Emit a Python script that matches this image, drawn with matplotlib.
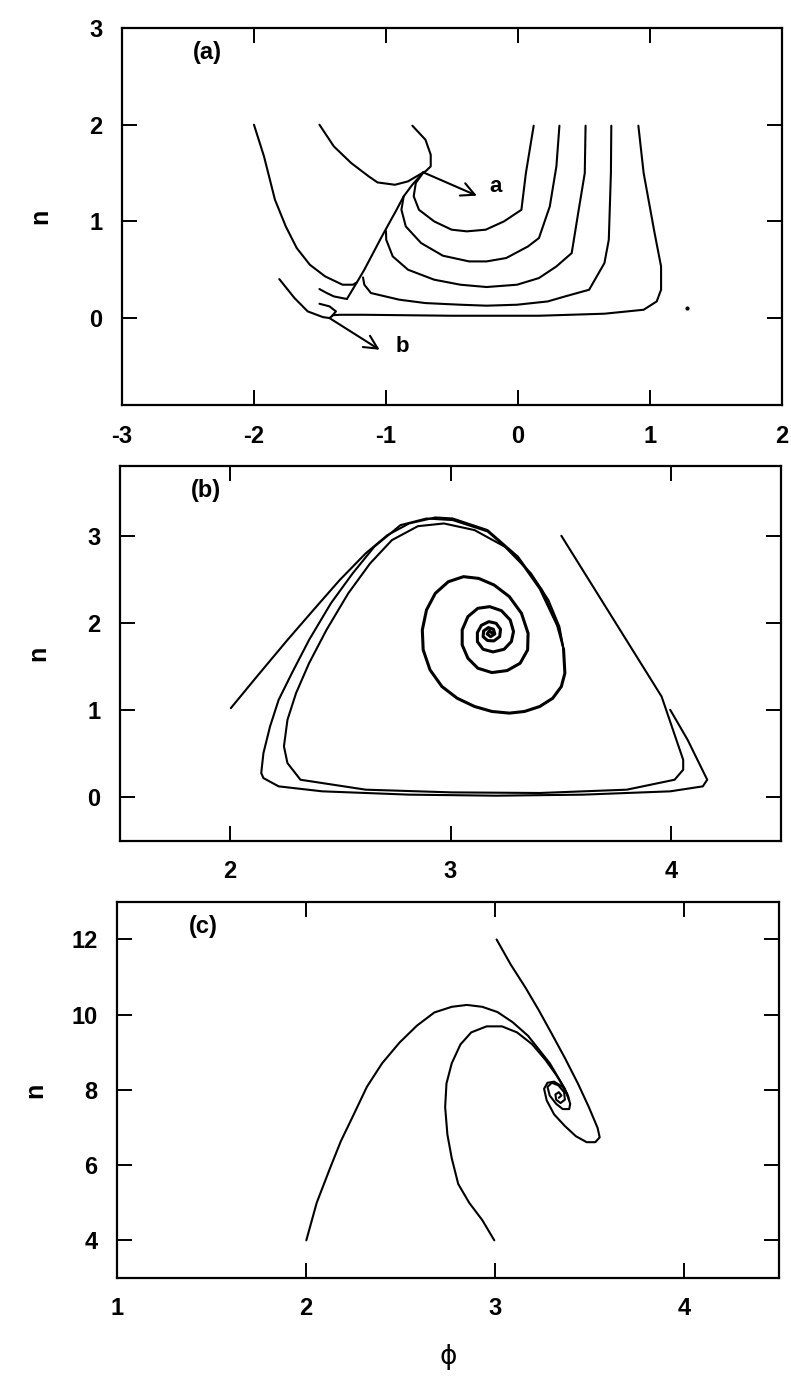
import numpy as np
import matplotlib.pyplot as plt

plt.rcParams['font.family'] = ['Liberation Sans', 'DejaVu Sans']
plt.rcParams['font.weight'] = 'bold'
plt.rcParams['axes.unicode_minus'] = False

# ---- panel (a): trajectories near the two saddles ----
a_left = [(-2.0, 2.0), (-1.924, 1.672), (-1.841, 1.224), (-1.759, 0.948), (-1.676, 0.724),
          (-1.577, 0.552), (-1.461, 0.431), (-1.329, 0.345), (-1.25, 0.345), (-1.22, 0.37)]
a_diag = [(-1.296, 0.197), (-1.22, 0.37), (-1.164, 0.50), (-1.031, 0.845), (-0.92, 1.12),
          (-0.866, 1.259), (-0.80, 1.38), (-0.717, 1.507)]
a_low = [(-1.504, 0.30), (-1.45, 0.26), (-1.395, 0.224), (-1.296, 0.197)]
a_top1 = [(-1.504, 2.0), (-1.395, 1.776), (-1.263, 1.603), (-1.131, 1.466), (-1.064, 1.403),
          (-0.932, 1.379), (-0.833, 1.414), (-0.717, 1.507)]
a_top2 = [(-0.80, 1.99), (-0.701, 1.845), (-0.661, 1.69), (-0.661, 1.569), (-0.701, 1.517),
          (-0.717, 1.507)]
a_bowl1 = [(0.119, 1.99), (0.06, 1.5), (0.026, 1.12), (-0.106, 1.0), (-0.245, 0.914),
           (-0.387, 0.897), (-0.502, 0.914), (-0.635, 1.0), (-0.75, 1.12), (-0.79, 1.26),
           (-0.774, 1.397), (-0.717, 1.507)]
a_bowl2 = [(0.314, 1.99), (0.291, 1.569), (0.241, 1.155), (0.159, 0.828), (0.076, 0.741),
           (-0.089, 0.621), (-0.238, 0.586), (-0.37, 0.586), (-0.569, 0.645), (-0.734, 0.776),
           (-0.85, 0.948), (-0.883, 1.121), (-0.866, 1.259)]
a_bowl3 = [(0.512, 1.99), (0.506, 1.5), (0.456, 1.086), (0.407, 0.672), (0.291, 0.534),
           (0.159, 0.414), (-0.007, 0.345), (-0.238, 0.321), (-0.436, 0.345), (-0.635, 0.397),
           (-0.833, 0.5), (-0.949, 0.638), (-0.998, 0.81), (-1.0, 0.90)]
a_bowl4 = [(0.707, 1.99), (0.704, 1.5), (0.688, 0.81), (0.655, 0.569), (0.539, 0.293),
           (0.357, 0.224), (0.225, 0.172), (-0.007, 0.138), (-0.238, 0.128), (-0.436, 0.138),
           (-0.701, 0.155), (-0.899, 0.19), (-1.114, 0.259), (-1.164, 0.345), (-1.174, 0.42)]
a_bowl5 = [(0.912, 1.99), (0.952, 1.5), (1.035, 0.879), (1.084, 0.534), (1.084, 0.293),
           (1.051, 0.172), (0.952, 0.086), (0.655, 0.045), (0.159, 0.024), (-0.502, 0.024),
           (-1.164, 0.034), (-1.345, 0.034), (-1.40, 0.03), (-1.428, 0.0)]
a_spur = [(-1.504, 0.148), (-1.428, 0.121), (-1.379, 0.069), (-1.41, 0.02)]
a_bot = [(-1.808, 0.403), (-1.693, 0.207), (-1.593, 0.069), (-1.478, 0.01), (-1.428, 0.0)]
arrow_a = [(-0.717, 1.507), (-0.311, 1.266)]
arrow_b = [(-1.428, 0.0), (-1.048, -0.328)]
dot_a = (1.283, 0.103)

# ---- panel (b): orbits spiralling into the focus ----
b_core = [(3.513, 1.70), (3.519, 1.424), (3.503, 1.271), (3.464, 1.137), (3.405, 1.042),
          (3.336, 0.985), (3.267, 0.966), (3.188, 0.985), (3.109, 1.042), (3.03, 1.137),
          (2.961, 1.271), (2.907, 1.462), (2.876, 1.691), (2.872, 1.92), (2.891, 2.149),
          (2.931, 2.34), (2.99, 2.473), (3.059, 2.531), (3.128, 2.511), (3.198, 2.435),
          (3.267, 2.302), (3.322, 2.111), (3.352, 1.882), (3.35, 1.691), (3.316, 1.538),
          (3.257, 1.454), (3.188, 1.431), (3.124, 1.481), (3.079, 1.595), (3.053, 1.748),
          (3.053, 1.92), (3.079, 2.073), (3.124, 2.168), (3.178, 2.187), (3.231, 2.141),
          (3.271, 2.034), (3.286, 1.901), (3.276, 1.786), (3.243, 1.698), (3.193, 1.668),
          (3.148, 1.698), (3.122, 1.786), (3.122, 1.889), (3.14, 1.973), (3.174, 2.015),
          (3.207, 1.996), (3.227, 1.927), (3.223, 1.843), (3.197, 1.794), (3.168, 1.798),
          (3.148, 1.843), (3.15, 1.908), (3.172, 1.947), (3.195, 1.927), (3.201, 1.874),
          (3.182, 1.843), (3.166, 1.874), (3.176, 1.908), (3.186, 1.889)]
b_left = [(2.003, 1.023), (2.121, 1.385), (2.26, 1.805), (2.378, 2.149), (2.497, 2.492),
          (2.615, 2.798), (2.714, 3.008), (2.812, 3.141), (2.931, 3.21), (3.01, 3.198),
          (3.168, 3.065), (3.306, 2.76), (3.415, 2.378), (3.494, 1.92), (3.513, 1.70)]
b_right1 = [(3.503, 3.0), (3.958, 1.156), (4.056, 0.43), (4.056, 0.317), (4.017, 0.202),
            (3.80, 0.088), (3.405, 0.05), (3.005, 0.057), (2.615, 0.088), (2.319, 0.202),
            (2.26, 0.393), (2.244, 0.584), (2.26, 0.889), (2.299, 1.195), (2.358, 1.538),
            (2.437, 1.92), (2.536, 2.34), (2.635, 2.683), (2.734, 2.95), (2.852, 3.11),
            (2.97, 3.141), (3.109, 3.065), (3.247, 2.874), (3.365, 2.569), (3.444, 2.263),
            (3.494, 1.958), (3.513, 1.70)]
b_right2 = [(3.997, 1.004), (4.076, 0.66), (4.165, 0.202), (4.145, 0.126), (3.997, 0.069),
            (3.602, 0.031), (3.207, 0.019), (2.812, 0.031), (2.418, 0.069), (2.22, 0.126),
            (2.151, 0.221), (2.141, 0.279), (2.151, 0.508), (2.181, 0.813), (2.22, 1.118),
            (2.28, 1.424), (2.358, 1.805), (2.457, 2.225), (2.556, 2.569), (2.654, 2.874),
            (2.773, 3.122), (2.891, 3.198), (3.01, 3.18), (3.168, 3.05), (3.306, 2.745),
            (3.405, 2.39), (3.484, 1.97), (3.513, 1.70)]

# ---- panel (c): three orbits into a tighter focus ----
c_core = [(3.396, 7.63), (3.391, 7.49), (3.357, 7.49), (3.322, 7.63), (3.288, 7.85),
          (3.276, 8.08), (3.299, 8.19), (3.334, 8.12), (3.364, 7.94), (3.368, 7.74),
          (3.345, 7.65), (3.322, 7.74), (3.318, 7.88), (3.336, 7.94), (3.35, 7.85),
          (3.336, 7.79)]
c_left = [(2.001, 4.0), (2.056, 5.0), (2.125, 5.9), (2.183, 6.63), (2.252, 7.35),
          (2.321, 8.08), (2.402, 8.71), (2.494, 9.26), (2.586, 9.71), (2.678, 10.06),
          (2.77, 10.21), (2.85, 10.26), (2.931, 10.21), (3.012, 10.07), (3.092, 9.8),
          (3.173, 9.44), (3.23, 9.08), (3.288, 8.71), (3.341, 8.26), (3.38, 7.9),
          (3.396, 7.63)]
c_mid = [(2.995, 4.0), (2.931, 4.54), (2.862, 5.0), (2.804, 5.5), (2.77, 6.18),
         (2.747, 6.81), (2.735, 7.54), (2.742, 8.17), (2.77, 8.71), (2.816, 9.21),
         (2.873, 9.53), (2.954, 9.69), (3.035, 9.69), (3.115, 9.53), (3.196, 9.21),
         (3.265, 8.8), (3.322, 8.4), (3.368, 8.03), (3.391, 7.72)]
c_top = [(3.007, 12.0), (3.081, 11.34), (3.161, 10.71), (3.23, 10.12), (3.299, 9.49),
         (3.368, 8.85), (3.437, 8.17), (3.495, 7.54), (3.541, 6.99), (3.552, 6.74),
         (3.529, 6.61), (3.483, 6.61), (3.426, 6.77), (3.368, 7.04), (3.311, 7.35),
         (3.272, 7.72), (3.258, 8.03), (3.276, 8.19), (3.311, 8.22), (3.357, 8.08),
         (3.387, 7.81)]


def line(ax, pts, lw=1.5):
    p = np.array(pts)
    ax.plot(p[:, 0], p[:, 1], color='black', lw=lw,
            solid_joinstyle='round', solid_capstyle='round')


def arrow(ax, pts):
    ax.annotate('', xy=pts[1], xytext=pts[0],
                arrowprops=dict(arrowstyle='->', lw=1.5, color='black',
                                mutation_scale=24, shrinkA=0, shrinkB=0))


def style(ax, xticks, yticks, tag):
    ax.set_xticks(xticks)
    ax.set_yticks(yticks)
    ax.tick_params(direction='in', length=11, width=1.4, top=True, right=True,
                   labelsize=17, pad=14)
    for s in ax.spines.values():
        s.set_linewidth(1.6)
    ax.set_ylabel('n', fontsize=18, fontweight='bold')
    ax.yaxis.set_label_coords(-0.105, 0.5)
    ax.text(0.13, 0.935, tag, transform=ax.transAxes, fontsize=17,
            fontweight='bold', ha='center', va='center')


fig = plt.figure(figsize=(7.91, 13.82), dpi=100)
ax1 = fig.add_axes([0.1542, 0.7069, 0.8344, 0.2728])
ax2 = fig.add_axes([0.1517, 0.3915, 0.8357, 0.2713])
ax3 = fig.add_axes([0.1479, 0.0753, 0.8369, 0.2721])

for pts in [a_left, a_diag, a_low, a_top1, a_top2, a_bowl1, a_bowl2, a_bowl3,
            a_bowl4, a_bowl5, a_spur, a_bot]:
    line(ax1, pts)
arrow(ax1, arrow_a)
arrow(ax1, arrow_b)
ax1.plot(*dot_a, 'o', color='black', ms=2)
ax1.text(-0.172, 1.362, 'a', fontsize=16, fontweight='bold', ha='center', va='center')
ax1.text(-0.873, -0.293, 'b', fontsize=16, fontweight='bold', ha='center', va='center')
ax1.set_xlim(-3, 2)
ax1.set_ylim(-0.9, 3)
style(ax1, [-3, -2, -1, 0, 1, 2], [0, 1, 2, 3], '(a)')

for pts in [b_left, b_right1, b_right2]:
    line(ax2, pts)
line(ax2, b_core, lw=2.2)
ax2.set_xlim(1.5, 4.5)
ax2.set_ylim(-0.5, 3.8)
style(ax2, [2, 3, 4], [0, 1, 2, 3], '(b)')

for pts in [c_left, c_mid, c_top, c_core]:
    line(ax3, pts)
ax3.set_xlim(1, 4.5)
ax3.set_ylim(3, 13)
style(ax3, [1, 2, 3, 4], [4, 6, 8, 10, 12], '(c)')
ax3.set_xlabel('\u03d5', fontsize=19, fontweight='normal', family='DejaVu Sans')
ax3.xaxis.set_label_coords(0.5, -0.175)

fig.savefig('out.png', dpi=100)
